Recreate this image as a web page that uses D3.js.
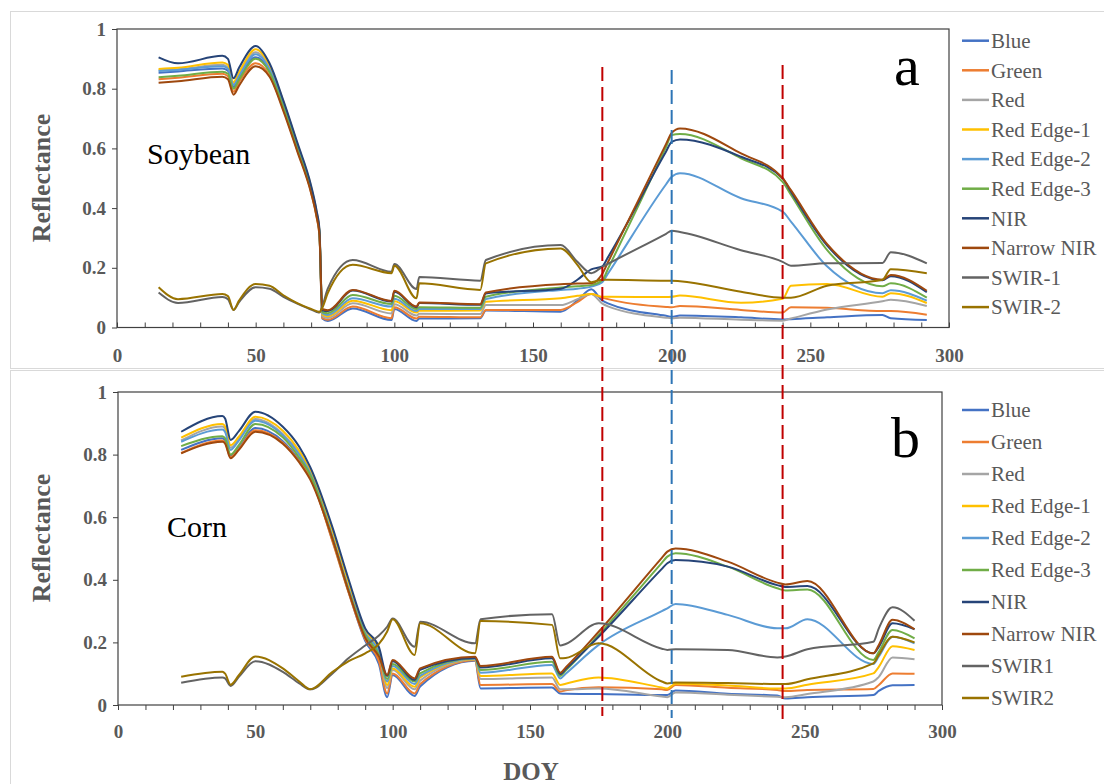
<!DOCTYPE html>
<html>
<head>
<meta charset="utf-8">
<script src="https://cdn.jsdelivr.net/npm/d3@7/dist/d3.min.js"></script>
<style>
  body { margin: 0; background: #fff; }
  svg { display: block; }
  text { font-family: "Liberation Serif", "Times New Roman", serif; }
</style>
</head>
<body>
<div id="chart"></div>
<script>
// band names + excel colours
const bandsA = ['Blue', 'Green', 'Red', 'Red Edge-1', 'Red Edge-2', 'Red Edge-3', 'NIR', 'Narrow NIR', 'SWIR-1', 'SWIR-2']
const bandsB = ['Blue', 'Green', 'Red', 'Red Edge-1', 'Red Edge-2', 'Red Edge-3', 'NIR', 'Narrow NIR', 'SWIR1', 'SWIR2']
const colors = ['#4472c4', '#ed7d31', '#a5a5a5', '#ffc000', '#5b9bd5', '#70ad47', '#264478', '#9e480e', '#636363', '#997300']

const xTicks = [0, 50, 100, 150, 200, 250, 300]
const yTicks = [0, 0.2, 0.4, 0.6, 0.8, 1]
const markerDoy = [175, 200, 240]

// (a) soybean
const soyDoy = [15, 22, 38, 40, 42, 44, 50, 55, 60, 65, 70, 72, 73, 74, 76, 85, 99, 100, 108, 109, 131, 133, 160, 166, 171, 175, 177, 198, 200, 203, 225, 240, 243, 256, 276, 279, 292]
const soyBlue = [.853, .858, .868, .86, .806, .838, .905, .86, .742, .605, .462, .378, .316, .03, .022, .064, .025, .062, .022, .03, .031, .057, .053, .09, .128, .09, .081, .039, .036, .04, .034, .027, .028, .034, .042, .031, .025]
const soyGreen = [.832, .837, .85, .842, .79, .822, .885, .845, .73, .595, .452, .368, .308, .032, .026, .07, .031, .068, .03, .036, .034, .059, .059, .085, .112, .1, .095, .069, .068, .072, .059, .05, .068, .066, .055, .055, .043]
const soyRed = [.862, .865, .88, .872, .815, .848, .922, .872, .752, .612, .466, .382, .32, .038, .032, .081, .047, .078, .04, .046, .045, .075, .075, .095, .112, .08, .071, .033, .031, .033, .026, .023, .03, .06, .088, .093, .072]
const soyRE1 = [.866, .87, .888, .88, .822, .855, .932, .878, .756, .615, .47, .385, .322, .044, .038, .09, .058, .088, .05, .056, .057, .086, .098, .106, .112, .103, .103, .102, .103, .107, .083, .096, .14, .146, .103, .115, .082]
const soyRE2 = [.859, .863, .875, .867, .812, .842, .915, .865, .748, .608, .464, .38, .318, .048, .042, .098, .07, .096, .055, .062, .062, .095, .126, .13, .137, .152, .18, .48, .505, .517, .433, .388, .355, .205, .115, .125, .09]
const soyRE3 = [.838, .843, .857, .85, .8, .83, .9, .855, .738, .6, .458, .375, .315, .052, .048, .109, .079, .106, .062, .068, .066, .103, .134, .138, .142, .158, .196, .605, .645, .648, .567, .488, .445, .26, .138, .148, .1]
const soyNIR = [.905, .885, .91, .9, .835, .87, .943, .885, .76, .62, .475, .39, .33, .058, .055, .124, .087, .12, .068, .082, .076, .114, .13, .16, .195, .205, .235, .59, .622, .63, .572, .5, .455, .275, .158, .172, .118]
const soyNNIR = [.82, .825, .84, .832, .78, .81, .875, .84, .725, .59, .45, .37, .31, .062, .058, .126, .089, .123, .07, .084, .078, .117, .145, .147, .148, .18, .218, .615, .652, .667, .583, .5, .46, .28, .16, .176, .123]
const soySWIR1 = [.117, .082, .102, .095, .059, .085, .135, .13, .103, .08, .06, .052, .05, .07, .13, .226, .187, .213, .129, .169, .157, .226, .276, .22, .182, .203, .213, .314, .324, .32, .259, .22, .207, .215, .216, .252, .215]
const soySWIR2 = [.135, .095, .112, .105, .059, .09, .146, .14, .108, .082, .062, .055, .052, .065, .115, .21, .182, .207, .098, .148, .126, .215, .265, .21, .152, .16, .16, .157, .157, .155, .12, .1, .1, .14, .16, .195, .182]

// (b) corn
const cornDoy = [23, 38, 39, 41, 44, 50, 60, 66, 70, 78, 84, 90, 95, 98, 100, 108, 110, 130, 132, 158, 161, 163, 175, 198, 200, 203, 222, 240, 243, 251, 275, 277, 282, 290]
const cornBlue = [.815, .852, .845, .796, .822, .885, .843, .782, .73, .528, .36, .205, .13, .025, .096, .029, .059, .141, .053, .056, .037, .036, .035, .032, .032, .046, .036, .03, .021, .025, .032, .045, .063, .064]
const cornGreen = [.805, .845, .838, .792, .818, .878, .838, .778, .728, .525, .358, .21, .14, .037, .101, .037, .067, .143, .064, .067, .043, .047, .057, .05, .048, .064, .055, .048, .045, .048, .051, .064, .101, .1]
const cornRed = [.845, .89, .882, .822, .85, .914, .866, .804, .742, .542, .372, .232, .172, .054, .112, .05, .078, .145, .083, .088, .05, .05, .053, .027, .025, .04, .033, .026, .025, .035, .075, .09, .152, .146]
const cornRE1 = [.854, .898, .89, .83, .857, .921, .876, .812, .75, .56, .39, .238, .178, .064, .117, .058, .088, .146, .093, .101, .064, .068, .088, .056, .053, .068, .062, .053, .053, .065, .101, .122, .188, .176]
const cornRE2 = [.841, .88, .872, .815, .845, .908, .862, .8, .74, .54, .37, .23, .168, .075, .125, .067, .093, .148, .103, .128, .085, .1, .192, .3, .309, .323, .288, .245, .245, .274, .131, .155, .218, .197]
const cornRE3 = [.827, .859, .852, .8, .83, .898, .855, .79, .735, .535, .365, .225, .16, .083, .131, .075, .101, .15, .112, .138, .093, .11, .224, .454, .474, .485, .442, .373, .366, .369, .144, .17, .24, .213]
const cornNIR = [.873, .923, .915, .847, .875, .937, .889, .825, .76, .57, .4, .245, .185, .093, .14, .08, .112, .15, .12, .149, .099, .115, .218, .435, .453, .463, .442, .383, .377, .38, .165, .186, .261, .242]
const cornNNIR = [.804, .841, .835, .788, .815, .873, .835, .775, .72, .533, .362, .215, .155, .096, .144, .085, .117, .154, .125, .154, .103, .12, .234, .47, .49, .5, .458, .391, .385, .396, .165, .192, .272, .242]
const cornSWIR1 = [.071, .088, .085, .061, .09, .14, .106, .069, .05, .1, .15, .19, .222, .25, .276, .186, .266, .197, .274, .29, .19, .195, .261, .18, .176, .178, .176, .152, .155, .178, .202, .245, .312, .269]
const cornSWIR2 = [.09, .106, .1, .065, .095, .155, .117, .075, .05, .105, .14, .165, .195, .235, .274, .16, .261, .165, .268, .256, .149, .15, .197, .075, .069, .072, .07, .067, .067, .082, .133, .16, .218, .2]

const width = 1104
const height = 784
const axisColor = '#404040'
const labelColor = '#595959'

const svg = d3.select('#chart').append('svg')
  .attr('width', width)
  .attr('height', height)

// light outer frames of the two excel charts
svg.append('rect').attr('x', 10.5).attr('y', 11.5).attr('width', 1100).attr('height', 357)
  .attr('fill', 'none').attr('stroke', '#d9d9d9')
svg.append('rect').attr('x', 10.5).attr('y', 370.5).attr('width', 1100).attr('height', 420)
  .attr('fill', 'none').attr('stroke', '#d9d9d9')

const panels = [
  {
    doy: soyDoy,
    series: [soyBlue, soyGreen, soyRed, soyRE1, soyRE2, soyRE3, soyNIR, soyNNIR, soySWIR1, soySWIR2],
    names: bandsA, x0: 117, x1: 949, yTop: 29, yBot: 327.5, tickIn: true, xLabelBase: 362,
    yTitle: 178, crop: 'Soybean', cropX: 147, cropY: 164, tag: 'a', tagX: 894, tagY: 85,
    legY: 40.7, legStep: 29.6
  },
  {
    doy: cornDoy,
    series: [cornBlue, cornGreen, cornRed, cornRE1, cornRE2, cornRE3, cornNIR, cornNNIR, cornSWIR1, cornSWIR2],
    names: bandsB, x0: 118, x1: 942, yTop: 392, yBot: 705, tickIn: false, xLabelBase: 738,
    yTitle: 538, crop: 'Corn', cropX: 167, cropY: 537, tag: 'b', tagX: 891, tagY: 457,
    legY: 410, legStep: 32
  }
]

const scales = []

panels.forEach(p => {
  const x = d3.scaleLinear().domain([0, 300]).range([p.x0, p.x1])
  const y = d3.scaleLinear().domain([0, 1]).range([p.yBot, p.yTop])
  scales.push({ x, y })
  const g = svg.append('g')

  // minor x ticks every 10
  g.append('g')
    .attr('transform', `translate(0,${p.yBot})`)
    .call(d3.axisBottom(x).tickValues(d3.range(0, 301, 10)).tickSize(p.tickIn ? -5 : 5).tickSizeOuter(0).tickFormat(''))
    .call(a => a.select('.domain').remove())
    .call(a => a.selectAll('line').attr('stroke', axisColor))

  // x labels
  g.append('g')
    .attr('transform', `translate(0,${p.yBot})`)
    .call(d3.axisBottom(x).tickValues(xTicks).tickSize(0).tickPadding(p.xLabelBase - p.yBot - 13.5).tickFormat(d3.format('d')))
    .call(a => a.select('.domain').remove())
    .call(a => a.selectAll('text')
      .attr('fill', labelColor).attr('font-size', 19).attr('font-weight', 'bold')
      .attr('font-family', '"Liberation Serif", serif'))

  // y axis
  g.append('g')
    .attr('transform', `translate(${p.x0},0)`)
    .call(d3.axisLeft(y).tickValues(yTicks).tickSize(5).tickSizeOuter(0).tickPadding(6)
      .tickFormat(d => (d === 0 || d === 1) ? String(d) : d3.format('.1f')(d)))
    .call(a => a.select('.domain').remove())
    .call(a => a.selectAll('line').attr('stroke', axisColor))
    .call(a => a.selectAll('text')
      .attr('fill', labelColor).attr('font-size', 19).attr('font-weight', 'bold')
      .attr('font-family', '"Liberation Serif", serif'))

  // plot frame
  g.append('rect')
    .attr('x', p.x0).attr('y', p.yTop)
    .attr('width', p.x1 - p.x0).attr('height', p.yBot - p.yTop)
    .attr('fill', 'none').attr('stroke', axisColor).attr('stroke-width', 1.2)

  // series
  const line = d3.line()
    .x(d => x(d[0]))
    .y(d => y(d[1]))
    .curve(d3.curveMonotoneX)

  g.append('g')
    .selectAll('path')
    .data(p.series)
    .enter().append('path')
    .attr('d', s => line(s.map((v, i) => [p.doy[i], v])))
    .attr('fill', 'none')
    .attr('stroke', (s, i) => colors[i])
    .attr('stroke-width', 2)
    .attr('stroke-linejoin', 'round')

  // titles
  g.append('text')
    .attr('transform', `translate(50,${p.yTitle}) rotate(-90)`)
    .attr('text-anchor', 'middle')
    .attr('font-size', 26).attr('font-weight', 'bold').attr('fill', labelColor)
    .text('Reflectance')

  g.append('text')
    .attr('x', p.cropX).attr('y', p.cropY)
    .attr('font-size', 30).attr('fill', '#000')
    .text(p.crop)

  g.append('text')
    .attr('x', p.tagX).attr('y', p.tagY)
    .attr('font-size', 58).attr('fill', '#000')
    .text(p.tag)

  // legend
  const leg = g.append('g')
    .selectAll('g')
    .data(p.names)
    .enter().append('g')
    .attr('transform', (d, i) => `translate(962,${p.legY + i * p.legStep})`)

  leg.append('line')
    .attr('x1', 0).attr('x2', 27)
    .attr('stroke', (d, i) => colors[i]).attr('stroke-width', 2.5)

  leg.append('text')
    .attr('x', 29).attr('dy', '0.35em')
    .attr('font-size', 21).attr('fill', labelColor)
    .text(d => d)
})

svg.append('text')
  .attr('x', 531).attr('y', 780)
  .attr('text-anchor', 'middle')
  .attr('font-size', 25).attr('font-weight', 'bold').attr('fill', labelColor)
  .text('DOY')

// vertical dashed markers across both panels
const xm = scales[0].x
svg.append('g')
  .selectAll('line')
  .data(markerDoy)
  .enter().append('line')
  .attr('x1', d => xm(d)).attr('x2', d => xm(d))
  .attr('y1', (d, i) => [67, 70, 65][i])
  .attr('y2', (d, i) => [716, 718, 724][i])
  .attr('stroke', d => d === 200 ? '#2e75b6' : '#c00000')
  .attr('stroke-width', 2)
  .attr('stroke-dasharray', '14,6')
</script>
</body>
</html>
